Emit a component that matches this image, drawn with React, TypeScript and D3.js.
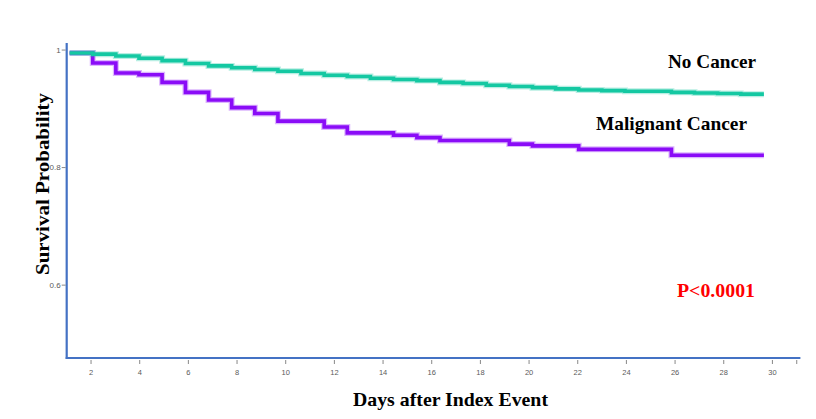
import React from 'react';
import * as d3 from 'd3';

// step start times (days after index event) shared by both curves
const stepDays = [
  1.12, 2.07, 3.02, 3.97, 4.92, 5.88, 6.83, 7.78, 8.73, 9.68,
  10.63, 11.58, 12.53, 13.48, 14.43, 15.39, 16.34, 17.29, 18.24, 19.19,
  20.14, 21.09, 22.04, 22.99, 23.94, 24.9, 25.85, 26.8, 27.75, 28.7,
];
const lastDay = 29.65;

const noCancer = [
  0.995, 0.993, 0.99, 0.986, 0.982, 0.977, 0.973, 0.97, 0.967, 0.964,
  0.96, 0.957, 0.955, 0.952, 0.95, 0.948, 0.945, 0.943, 0.94, 0.938,
  0.936, 0.934, 0.932, 0.931, 0.93, 0.93, 0.928, 0.927, 0.926, 0.925,
];
const malignant = [
  0.995, 0.978, 0.961, 0.958, 0.945, 0.928, 0.915, 0.902, 0.892, 0.879,
  0.879, 0.869, 0.859, 0.859, 0.855, 0.851, 0.846, 0.846, 0.846, 0.84,
  0.837, 0.837, 0.831, 0.831, 0.831, 0.831, 0.821, 0.821, 0.821, 0.821,
];

const xTicks = [2, 4, 6, 8, 10, 12, 14, 16, 18, 20, 22, 24, 26, 28, 30];
const yTicks = [0.6, 0.8, 1];

const W = 816;
const H = 419;
const axisColor = '#4472c4';
const tickColor = '#5a5a5a';

const x = d3.scaleLinear().domain([1, 31.15]).range([66.7, 800.4]);
const y = d3.scaleLinear().domain([0.476, 1.012]).range([358, 43]);

const line = d3
  .line<[number, number]>()
  .x((d) => x(d[0]))
  .y((d) => y(d[1]))
  .curve(d3.curveStepAfter);

function toPoints(vals: number[]): [number, number][] {
  const pts: [number, number][] = stepDays.map((d, i) => [d, vals[i]]);
  pts.push([lastDay, vals[vals.length - 1]]);
  return pts;
}

function Curve({ vals, color }: { vals: number[]; color: string }) {
  const d = line(toPoints(vals)) || '';
  return (
    <g fill="none">
      <path d={d} stroke={color} strokeOpacity={0.3} strokeWidth={6} />
      <path d={d} stroke={color} strokeWidth={3.6} />
    </g>
  );
}

export default function App() {
  const x0 = x.range()[0];
  const y0 = y.range()[0];
  return (
    <svg
      width={W}
      height={H}
      style={{ position: 'absolute', left: 0, top: 0, background: '#fff' }}
    >
      {/* axes */}
      <line x1={x0} x2={x0} y1={y.range()[1]} y2={y0 + 1} stroke={axisColor} strokeWidth={2.2} />
      <line x1={x0 - 1} x2={x.range()[1]} y1={y0} y2={y0} stroke={axisColor} strokeWidth={2.2} />

      {yTicks.map((t) => (
        <g key={t} transform={`translate(0,${y(t)})`}>
          <line x1={x0 - 5} x2={x0 - 1} stroke="#888" strokeWidth={1} />
          <text
            x={x0 - 6}
            dy="0.32em"
            textAnchor="end"
            fontFamily="Liberation Sans, Arial, sans-serif"
            fontSize={8}
            fill={tickColor}
          >
            {t === 1 ? '1' : t.toFixed(1)}
          </text>
        </g>
      ))}

      {[...xTicks, 31].map((t) => (
        <g key={t} transform={`translate(${x(t)},0)`}>
          <line y1={y0 + 2} y2={y0 + 6} stroke="#888" strokeWidth={1} />
          {t !== 31 && (
            <text
              y={y0 + 17}
              textAnchor="middle"
              fontFamily="Liberation Sans, Arial, sans-serif"
              fontSize={7.5}
              fill={tickColor}
            >
              {t}
            </text>
          )}
        </g>
      ))}

      {/* survival curves */}
      <Curve vals={malignant} color="#8a0cf7" />
      <Curve vals={noCancer} color="#14c8a2" />

      {/* labels */}
      <g
        fontFamily="Liberation Serif, Times New Roman, serif"
        fontWeight="bold"
        fontSize={19.5}
        lengthAdjust="spacingAndGlyphs"
      >
        <text x={668} y={68} textLength={88} lengthAdjust="spacingAndGlyphs" fill="#000">
          No Cancer
        </text>
        <text x={596} y={130} textLength={151} lengthAdjust="spacingAndGlyphs" fill="#000">
          Malignant Cancer
        </text>
        <text x={677} y={297} textLength={78} lengthAdjust="spacingAndGlyphs" fill="#ff0000">
          P&lt;0.0001
        </text>
        <text x={353} y={406} textLength={195} lengthAdjust="spacingAndGlyphs" fill="#000">
          Days after Index Event
        </text>
        <text
          transform="translate(49,275) rotate(-90)"
          textLength={182}
          lengthAdjust="spacingAndGlyphs"
          fill="#000"
        >
          Survival Probability
        </text>
      </g>
    </svg>
  );
}
